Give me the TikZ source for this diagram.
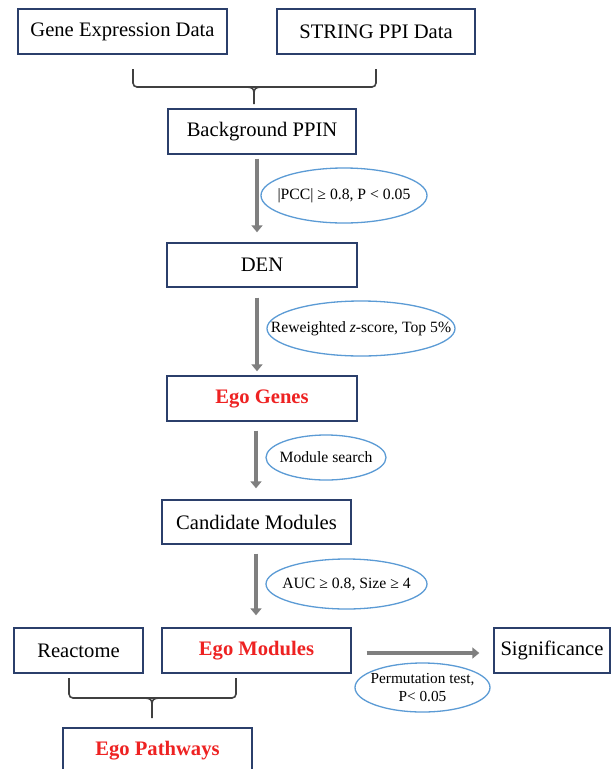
\documentclass[tikz,border=0pt]{standalone}
\usepackage{fontspec}
\setmainfont{Liberation Serif}
\usetikzlibrary{arrows.meta,shapes.geometric}
\definecolor{boxblue}{HTML}{2B3F6B}
\definecolor{ellblue}{HTML}{5B9BD5}
\definecolor{arrgray}{HTML}{7F7F7F}
\definecolor{bracegray}{HTML}{404040}
\definecolor{egored}{HTML}{EE2222}
\tikzset{
  box/.style={draw=boxblue, line width=1.4pt, rectangle, inner sep=0pt, fill=white,
    font=\fontsize{20.6}{23}\selectfont, text=black},
  redtext/.style={text=egored, font=\fontsize{20.6}{23}\selectfont\bfseries},
  cond/.style={draw=ellblue, line width=1.3pt, ellipse, inner sep=0pt},
  condtext/.style={inner sep=0pt, font=\fontsize{15.7}{18}\selectfont, align=center},
  flow/.style={draw=arrgray, line width=4.5pt, -{Triangle[width=11pt,length=7pt]}},
  bracket/.style={draw=bracegray, line width=1.6pt, rounded corners=4pt},
  bracestem/.style={draw=bracegray, line width=1.6pt}
}
\begin{document}
\begin{tikzpicture}[x=1pt,y=-1pt]
\useasboundingbox (0,0) rectangle (611,769);
\fill[white] (0,0) rectangle (611,769);

% boxes
\node[box, minimum width=209pt, minimum height=45pt] (gene) at (122.5,31.5) {Gene Expression Data};
\node[box, minimum width=198pt, minimum height=45pt] (string) at (376,31.5) {STRING PPI Data};
\node[box, minimum width=188pt, minimum height=45pt] (ppin) at (262,131.5) {Background PPIN};
\node[box, minimum width=190pt, minimum height=44pt] (den) at (262,265) {DEN};
\node[box, redtext, minimum width=190pt, minimum height=45pt] (egogenes) at (262,398.5) {Ego Genes};
\node[box, minimum width=189pt, minimum height=44pt] (cand) at (256.5,522) {Candidate Modules};
\node[box, redtext, minimum width=189pt, minimum height=45pt] (egomod) at (256.5,650.5) {Ego Modules};
\node[box, minimum width=129pt, minimum height=45pt] (reactome) at (78.5,650.5) {Reactome};
\node[box, minimum width=116pt, minimum height=45pt] (signif) at (552,650.5) {Significance};
\node[box, redtext, minimum width=189pt, minimum height=45pt] (egopath) at (157.5,750.5) {Ego Pathways};

% condition ellipses
\node[cond, minimum width=166pt, minimum height=55pt] (c1) at (344,195.5) {};
\node[condtext] (c1t) at (c1) {|PCC| ≥ 0.8, P < 0.05};
\node[cond, minimum width=188pt, minimum height=55pt] (c2) at (361,328.5) {};
\node[condtext] (c2t) at (c2) {Reweighted \textit{z}-score, Top 5\%};
\node[cond, minimum width=120pt, minimum height=45pt] (c3) at (326,457.5) {};
\node[condtext] (c3t) at (c3) {Module search};
\node[cond, minimum width=161pt, minimum height=50pt] (c4) at (346.5,584) {};
\node[condtext] (c4t) at (c4) {AUC ≥ 0.8, Size ≥ 4};
\node[cond, minimum width=135pt, minimum height=49pt] (c5) at (422.5,687.5) {};
\node[condtext, font=\fontsize{15.3}{18.5}\selectfont] (c5t) at (c5) {Permutation test,\\P< 0.05};

% flow arrows
\draw[flow] ([xshift=-5pt,yshift=-4pt]ppin.south) -- ([xshift=-5pt,yshift=10pt]den.north);
\draw[flow] ([xshift=-5pt,yshift=-10pt]den.south) -- ([xshift=-5pt,yshift=4pt]egogenes.north);
\draw[flow] ([xshift=-6pt,yshift=-9pt]egogenes.south) -- ([xshift=-0.5pt,yshift=11pt]cand.north);
\draw[flow] ([xshift=-0.5pt,yshift=-9pt]cand.south) -- ([xshift=-0.5pt,yshift=12pt]egomod.north);
\draw[flow] ([xshift=15pt,yshift=-2.5pt]egomod.east) -- ([xshift=-14pt,yshift=-2.5pt]signif.west);

% top bracket
\coordinate (tl) at (133,69);
\coordinate (tr) at (376,69);
\coordinate (tm) at (254,87);
\coordinate (tb) at (254,104);
\draw[bracket] (tl) -- (133,87) -- (tm);
\draw[bracket] (tr) -- (376,87) -- (tm);
\draw[bracestem] (tb) -- (254,93) .. controls (254,88.5) and (252,87) .. (246,87);
\draw[bracestem] (254,93) .. controls (254,88.5) and (256,87) .. (262,87);

% bottom bracket
\coordinate (bl) at (69,678);
\coordinate (br) at (236,678);
\coordinate (bm) at (152,698);
\coordinate (bb) at (152,718);
\draw[bracket] (bl) -- (69,698) -- (bm);
\draw[bracket] (br) -- (236,698) -- (bm);
\draw[bracestem] (bb) -- (152,704) .. controls (152,699.5) and (150,698) .. (144,698);
\draw[bracestem] (152,704) .. controls (152,699.5) and (154,698) .. (160,698);
\end{tikzpicture}
\end{document}
